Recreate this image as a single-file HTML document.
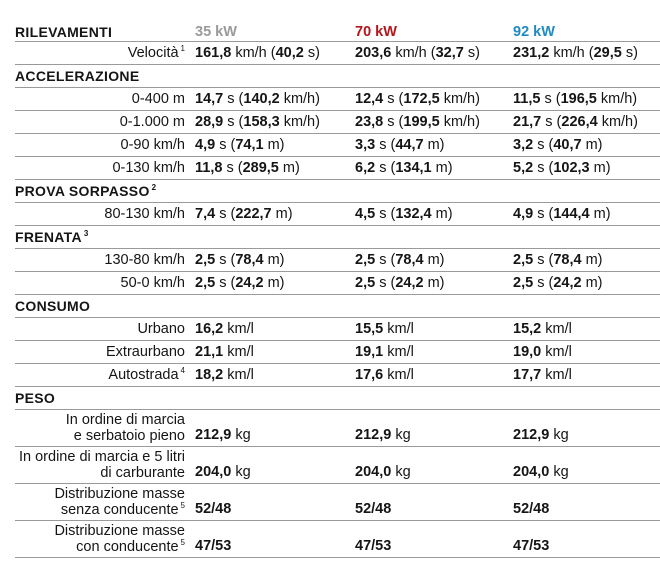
<!DOCTYPE html>
<html><head><meta charset="utf-8">
<style>
body{margin:0;width:660px;height:582px;background:#fff;font-family:"Liberation Sans",sans-serif;color:#151515;overflow:hidden}
.t{position:absolute;left:15px;top:22px;width:645px}
.r{position:relative;height:22px;border-bottom:1px solid #9a9a9a;font-size:14.5px;letter-spacing:0}
.r.h{height:19px}
.r.two{height:36px}
.r>div{position:absolute;top:0;bottom:0;display:flex;align-items:center;line-height:16px;white-space:nowrap}
.l{right:475px;text-align:right;justify-content:flex-end}
.c1{left:180px}.c2{left:340px}.c3{left:498px}
.sec{left:0;font-weight:bold;letter-spacing:0.3px;font-size:14px}
b{font-weight:bold}
sup{font-size:8px;vertical-align:6px;margin-left:2px;line-height:0}
.k1{color:#9a9a9a;font-weight:bold}.k2{color:#b3161b;font-weight:bold}.k3{color:#1f8ac4;font-weight:bold}
.bt{align-items:flex-end!important;padding-bottom:3px}
</style></head><body>
<div class="t">
<div class="r h"><div class="sec">RILEVAMENTI</div><div class="c1 k1">35 kW</div><div class="c2 k2">70 kW</div><div class="c3 k3">92 kW</div></div>
<div class="r"><div class="l"><span>Velocità<sup>1</sup></span></div><div class="c1"><span><b>161,8</b> km/h (<b>40,2</b> s)</span></div><div class="c2"><span><b>203,6</b> km/h (<b>32,7</b> s)</span></div><div class="c3"><span><b>231,2</b> km/h (<b>29,5</b> s)</span></div></div>
<div class="r"><div class="sec">ACCELERAZIONE</div></div>
<div class="r"><div class="l"><span>0-400 m</span></div><div class="c1"><span><b>14,7</b> s (<b>140,2</b> km/h)</span></div><div class="c2"><span><b>12,4</b> s (<b>172,5</b> km/h)</span></div><div class="c3"><span><b>11,5</b> s (<b>196,5</b> km/h)</span></div></div>
<div class="r"><div class="l"><span>0-1.000 m</span></div><div class="c1"><span><b>28,9</b> s (<b>158,3</b> km/h)</span></div><div class="c2"><span><b>23,8</b> s (<b>199,5</b> km/h)</span></div><div class="c3"><span><b>21,7</b> s (<b>226,4</b> km/h)</span></div></div>
<div class="r"><div class="l"><span>0-90 km/h</span></div><div class="c1"><span><b>4,9</b> s (<b>74,1</b> m)</span></div><div class="c2"><span><b>3,3</b> s (<b>44,7</b> m)</span></div><div class="c3"><span><b>3,2</b> s (<b>40,7</b> m)</span></div></div>
<div class="r"><div class="l"><span>0-130 km/h</span></div><div class="c1"><span><b>11,8</b> s (<b>289,5</b> m)</span></div><div class="c2"><span><b>6,2</b> s (<b>134,1</b> m)</span></div><div class="c3"><span><b>5,2</b> s (<b>102,3</b> m)</span></div></div>
<div class="r"><div class="sec"><span>PROVA SORPASSO<sup>2</sup></span></div></div>
<div class="r"><div class="l"><span>80-130 km/h</span></div><div class="c1"><span><b>7,4</b> s (<b>222,7</b> m)</span></div><div class="c2"><span><b>4,5</b> s (<b>132,4</b> m)</span></div><div class="c3"><span><b>4,9</b> s (<b>144,4</b> m)</span></div></div>
<div class="r"><div class="sec"><span>FRENATA<sup>3</sup></span></div></div>
<div class="r"><div class="l"><span>130-80 km/h</span></div><div class="c1"><span><b>2,5</b> s (<b>78,4</b> m)</span></div><div class="c2"><span><b>2,5</b> s (<b>78,4</b> m)</span></div><div class="c3"><span><b>2,5</b> s (<b>78,4</b> m)</span></div></div>
<div class="r"><div class="l"><span>50-0 km/h</span></div><div class="c1"><span><b>2,5</b> s (<b>24,2</b> m)</span></div><div class="c2"><span><b>2,5</b> s (<b>24,2</b> m)</span></div><div class="c3"><span><b>2,5</b> s (<b>24,2</b> m)</span></div></div>
<div class="r"><div class="sec">CONSUMO</div></div>
<div class="r"><div class="l"><span>Urbano</span></div><div class="c1"><span><b>16,2</b> km/l</span></div><div class="c2"><span><b>15,5</b> km/l</span></div><div class="c3"><span><b>15,2</b> km/l</span></div></div>
<div class="r"><div class="l"><span>Extraurbano</span></div><div class="c1"><span><b>21,1</b> km/l</span></div><div class="c2"><span><b>19,1</b> km/l</span></div><div class="c3"><span><b>19,0</b> km/l</span></div></div>
<div class="r"><div class="l"><span>Autostrada<sup>4</sup></span></div><div class="c1"><span><b>18,2</b> km/l</span></div><div class="c2"><span><b>17,6</b> km/l</span></div><div class="c3"><span><b>17,7</b> km/l</span></div></div>
<div class="r"><div class="sec">PESO</div></div>
<div class="r two"><div class="l"><span>In ordine di marcia<br>e serbatoio pieno</span></div><div class="c1 bt"><span><b>212,9</b> kg</span></div><div class="c2 bt"><span><b>212,9</b> kg</span></div><div class="c3 bt"><span><b>212,9</b> kg</span></div></div>
<div class="r two"><div class="l"><span>In ordine di marcia e 5 litri<br>di carburante</span></div><div class="c1 bt"><span><b>204,0</b> kg</span></div><div class="c2 bt"><span><b>204,0</b> kg</span></div><div class="c3 bt"><span><b>204,0</b> kg</span></div></div>
<div class="r two"><div class="l"><span>Distribuzione masse<br>senza conducente<sup>5</sup></span></div><div class="c1 bt"><b>52/48</b></div><div class="c2 bt"><b>52/48</b></div><div class="c3 bt"><b>52/48</b></div></div>
<div class="r two"><div class="l"><span>Distribuzione masse<br>con conducente<sup>5</sup></span></div><div class="c1 bt"><b>47/53</b></div><div class="c2 bt"><b>47/53</b></div><div class="c3 bt"><b>47/53</b></div></div>
</div>
</body></html>
